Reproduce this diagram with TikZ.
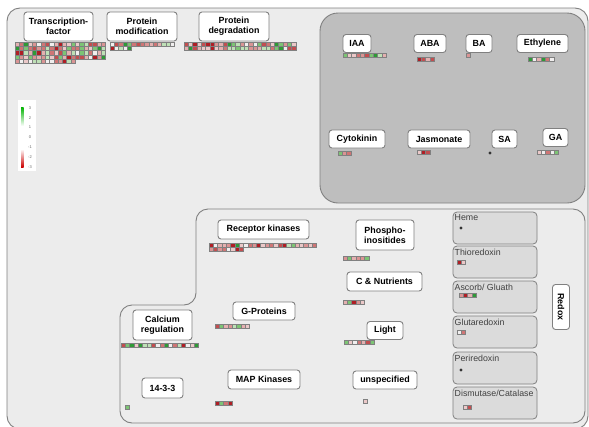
\documentclass[tikz,border=0pt]{standalone}
\usepackage{fontspec}
\setmainfont{Liberation Sans}
\usetikzlibrary{positioning}
\definecolor{panelgray}{HTML}{ECECEC}
\definecolor{hormgray}{HTML}{BEBEBE}
\definecolor{edgegray}{HTML}{808080}
\definecolor{cellgray}{HTML}{DBDBDB}
% heat map palette
\definecolor{hm1}{HTML}{EBC8C8}
\definecolor{hm2}{HTML}{E4B0B0}
\definecolor{hm3}{HTML}{DA9494}
\definecolor{hm4}{HTML}{CF7575}
\definecolor{hm5}{HTML}{C24E50}
\definecolor{hm6}{HTML}{B01E25}
\definecolor{hm7}{HTML}{F0EEEE}
\definecolor{hm8}{HTML}{BEE0B6}
\definecolor{hm9}{HTML}{7CC474}
\definecolor{hm10}{HTML}{2E9A36}
\tikzset{
    mapman/.style    = {x=1pt, y=-1pt},
    panel/.style     = {draw=edgegray, line width=0.9pt, rounded corners=13pt},
    tag/.style       = {draw=edgegray, line width=0.9pt, fill=white,
                        rounded corners=3pt, inner sep=1pt, align=center,
                        font=\fontsize{8.9}{10}\selectfont\bfseries},
    redoxcell/.style = {draw=edgegray, line width=0.8pt, fill=cellgray,
                        rounded corners=4pt},
    cellname/.style  = {anchor=north west, inner sep=0.5pt, text=black!75,
                        font=\fontsize{8.8}{9}\selectfont},
    cell/.style      = {draw=black!50, line width=0.35pt},
    spot/.style      = {circle, fill=black!80, inner sep=1.1pt},
    tick/.style      = {font=\fontsize{4}{4}\selectfont, text=black!60, inner sep=0pt}
}
\def\cellsize{4.3}
% one row of expression cells: x, y, count
\newcommand\heatrow[3]{%
    \foreach \c in {1,...,#3} {%
        \pgfmathrandominteger{\k}{1}{10}%
        \draw[cell, fill=hm\k] ({#1+(\c-1)*\cellsize},#2) rectangle ++(\cellsize,\cellsize);
    }}

\begin{document}
\begin{tikzpicture}[mapman]
\pgfmathsetseed{11}
\useasboundingbox (0,0) rectangle (589,426);
\fill[white] (0,0) rectangle (589,426);

% Panels.
\draw[panel, fill=panelgray] (7,8) rectangle (588,429);
\draw[panel, rounded corners=18pt, fill=hormgray, draw=black!50] (320,13) rectangle (585,203);
\draw[panel, rounded corners=12pt]
    (120,423) -- (120,305) -- (196,305) -- (196,209) -- (585,209) -- (585,423) -- cycle;

% Legend.
\fill[white] (18,100) rectangle (36,171);
\shade[top color=green!70!black, bottom color=white] (21,107) rectangle (23.5,126);
\shade[top color=white, bottom color=red!80!black] (21,149) rectangle (23.5,167);
\foreach \v [count=\i from 0] in {3,2,1,0,-1,-2,-3}
    \node[tick] (tick\i) at (30,{108+\i*9.8}) {\v};

% Top row of processes.
\node[tag, minimum width=69, minimum height=29] (tf) at (58.5,26.5) {Transcription-\\factor};
\node[tag, minimum width=70, minimum height=29] (pmod) at (142,26.5) {Protein\\modification};
\node[tag, minimum width=70, minimum height=29] (pdeg) at (234,26.5) {Protein\\degradation};
\foreach \r in {0,...,3} {\heatrow{15}{42+\r*\cellsize}{21}}
\heatrow{15}{59.2}{14}
\heatrow{110}{42}{15}
\heatrow{110}{46.3}{5}
\heatrow{184}{42}{26}
\heatrow{184}{46.3}{26}

% Hormones.
\node[tag, minimum width=28, minimum height=18] (iaa) at (357,43.5) {IAA};
\node[tag, minimum width=32, minimum height=18] (aba) at (430,43.5) {ABA};
\node[tag, minimum width=26, minimum height=18] (ba) at (479,43.5) {BA};
\node[tag, minimum width=51, minimum height=18] (eth) at (542.5,43.5) {Ethylene};
\node[tag, minimum width=56, minimum height=18] (cyt) at (357,139) {Cytokinin};
\node[tag, minimum width=62, minimum height=18] (jas) at (439,139) {Jasmonate};
\node[tag, minimum width=25, minimum height=18] (sa) at (504.5,139) {SA};
\node[tag, minimum width=25, minimum height=18] (ga) at (555.5,137.5) {GA};
\heatrow{343}{53}{10}
\heatrow{417}{57}{4}
\heatrow{466}{53}{1}
\heatrow{528}{57}{6}
\heatrow{338}{151}{3}
\heatrow{417}{150}{3}
\heatrow{537}{150}{5}
\node[spot] (sadot) at (490,153) {};

% Signalling.
\node[tag, minimum width=91, minimum height=19] (rk) at (263.5,229.5) {Receptor kinases};
\node[tag, minimum width=58, minimum height=30] (phos) at (385,235) {Phospho-\\inositides};
\node[tag, minimum width=75, minimum height=19] (cnut) at (384.5,281.5) {C \& Nutrients};
\node[tag, minimum width=62, minimum height=18] (gprot) at (264,311) {G-Proteins};
\node[tag, minimum width=59, minimum height=30] (calc) at (162.5,325) {Calcium\\regulation};
\node[tag, minimum width=36, minimum height=18] (light) at (385,330.5) {Light};
\node[tag, minimum width=41, minimum height=20] (f33) at (162.5,388) {14-3-3};
\node[tag, minimum width=72, minimum height=19] (mapk) at (264,379.5) {MAP Kinases};
\node[tag, minimum width=64, minimum height=18] (unspec) at (385,380) {unspecified};
\heatrow{209}{243}{25}
\heatrow{209}{247.3}{8}
\heatrow{343}{256}{6}
\heatrow{343}{300}{5}
\heatrow{215}{324}{8}
\heatrow{121}{343}{18}
\heatrow{344}{340}{7}
\heatrow{125}{405}{1}
\heatrow{215}{401}{4}
\heatrow{363}{399}{1}

% Redox.
\foreach \top/\name/\id in {212/Heme/heme, 246/Thioredoxin/thio,
        281/{Ascorb/ Gluath}/asc, 316/Glutaredoxin/glut,
        352/Periredoxin/peri, 387/{Dismutase/Catalase}/dism} {
    \draw[redoxcell] (453,\top) rectangle (537,{\top+32});
    \node[cellname] (\id) at (454,{\top+2}) {\name};
}
\node[tag, rotate=-90, minimum width=45, minimum height=17] (redox) at (561,307) {Redox};
\node[spot] (hemedot) at (461,228) {};
\node[spot] (peridot) at (461,370) {};
\heatrow{457}{260}{2}
\heatrow{459}{293}{4}
\heatrow{457}{330}{2}
\heatrow{463}{405}{2}

\end{tikzpicture}
\end{document}
